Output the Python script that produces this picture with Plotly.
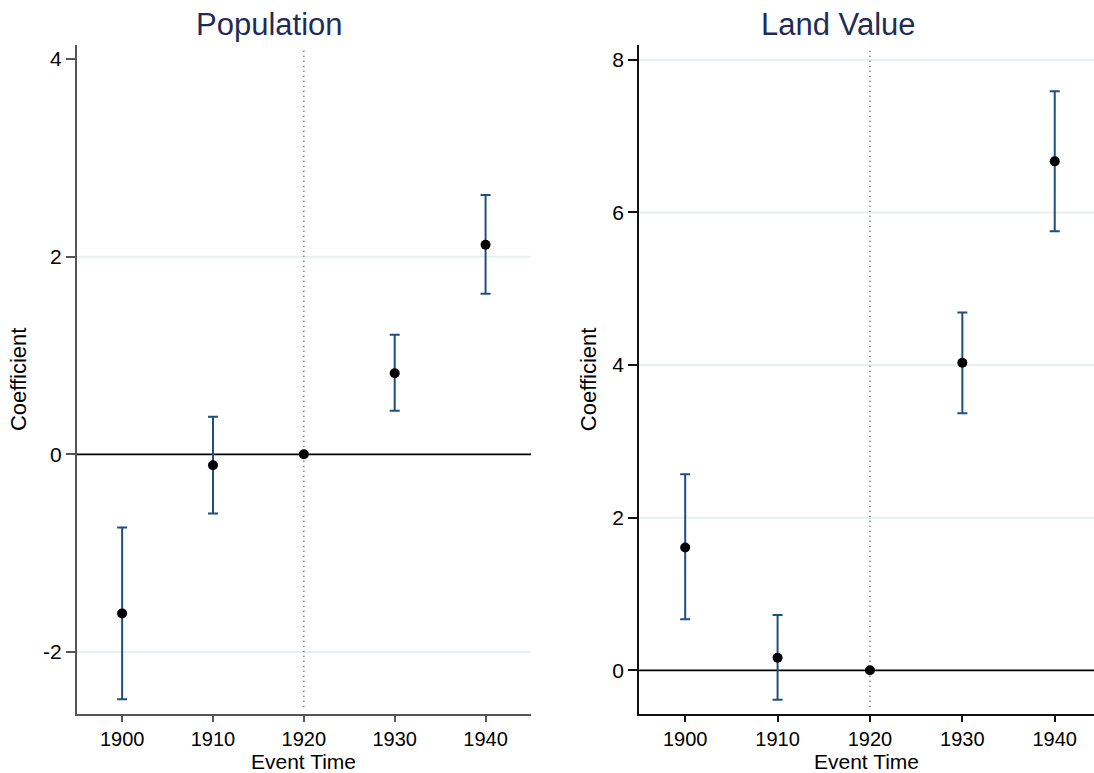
import plotly.graph_objects as go

years = [1900, 1910, 1920, 1930, 1940]

pop_coef = [-1.61, -0.11, 0.0, 0.82, 2.12]
pop_lower = [-2.48, -0.60, 0.0, 0.44, 1.625]
pop_upper = [-0.74, 0.38, 0.0, 1.21, 2.625]

land_coef = [1.61, 0.165, 0.0, 4.03, 6.67]
land_lower = [0.67, -0.385, 0.0, 3.37, 5.755]
land_upper = [2.57, 0.725, 0.0, 4.69, 7.59]

pop_ticks = [-2, 0, 2, 4]
pop_ticktext = ["-2", "0", "2", "4"]
land_ticks = [0, 2, 4, 6, 8]
land_ticktext = ["0", "2", "4", "6", "8"]
year_labels = ["1900", "1910", "1920", "1930", "1940"]
pop_grid = [-2, 2]
land_grid = [2, 4, 6, 8]

titles = ["Population", "Land Value"]
x_title = "Event Time"
y_title = "Coefficient"
event_year = 1920

FONT = "Liberation Sans, Arial, sans-serif"
CI_COLOR = "#1f4f7d"
GRID_COLOR = "#e8eff2"
TITLE_COLOR = "#1f2d55"

W, H = 1094, 773
fig = go.Figure()

panels = [
    dict(coef=pop_coef, lo=pop_lower, hi=pop_upper, ticks=pop_ticks, ticktext=pop_ticktext,
         grid=pop_grid, xa="x", ya="y", xdom=[76.7 / W, 531 / W], xr=[1895, 1945],
         yr=[-2.625, 4.142], axcol="#555555", title=titles[0], tx=269.5),
    dict(coef=land_coef, lo=land_lower, hi=land_upper, ticks=land_ticks, ticktext=land_ticktext,
         grid=land_grid, xa="x2", ya="y2", xdom=[639 / W, 1.0], xr=[1895, 1944.25],
         yr=[-0.569, 8.195], axcol="#111111", title=titles[1], tx=838),
]

ydom = [1 - 713.7 / H, 1 - 45 / H]
layout = dict(
    width=W, height=H, margin=dict(l=0, r=0, t=0, b=0),
    paper_bgcolor="white", plot_bgcolor="white", showlegend=False,
    font=dict(family=FONT, color="black", size=21),
)

shapes = []
annotations = []
for i, p in enumerate(panels):
    sfx = "" if i == 0 else "2"
    for g in p["grid"]:
        shapes.append(dict(type="line", xref=f"x{sfx} domain", yref=p["ya"], x0=0, x1=1, y0=g, y1=g,
                           line=dict(color=GRID_COLOR, width=2), layer="below"))
    shapes.append(dict(type="line", xref=f"x{sfx} domain", yref=p["ya"], x0=0, x1=1, y0=0, y1=0,
                       line=dict(color="black", width=1.8), layer="below"))
    shapes.append(dict(type="line", xref=p["xa"], yref=f"y{sfx} domain", x0=event_year, x1=event_year,
                       y0=0.0105, y1=0.9925, line=dict(color="#444444", width=1.4, dash="1px,4px"),
                       layer="below"))
    idx = [k for k in range(len(years)) if p["hi"][k] != p["lo"][k]]
    fig.add_trace(go.Scatter(
        x=[years[k] for k in idx], y=[p["coef"][k] for k in idx], xaxis=p["xa"], yaxis=p["ya"],
        mode="markers", marker=dict(size=0.1, color="rgba(0,0,0,0)"),
        error_y=dict(type="data", symmetric=False,
                     array=[p["hi"][k] - p["coef"][k] for k in idx],
                     arrayminus=[p["coef"][k] - p["lo"][k] for k in idx],
                     color=CI_COLOR, thickness=2, width=5),
        hoverinfo="skip"))
    fig.add_trace(go.Scatter(
        x=years, y=p["coef"], xaxis=p["xa"], yaxis=p["ya"], mode="markers",
        marker=dict(size=10, color="black")))
    layout[f"xaxis{sfx}"] = dict(
        domain=p["xdom"], range=p["xr"], anchor=p["ya"], tickvals=years, ticktext=year_labels,
        ticks="outside", ticklen=6, tickwidth=1.5, tickcolor=p["axcol"],
        showline=True, linecolor=p["axcol"], linewidth=1.6, showgrid=False, zeroline=False,
        tickfont=dict(size=20, family=FONT, color="black"),
    )
    layout[f"yaxis{sfx}"] = dict(
        domain=ydom, range=p["yr"], anchor=p["xa"], tickvals=p["ticks"], ticktext=p["ticktext"],
        ticks="outside", ticklen=9, tickwidth=1.5, tickcolor=p["axcol"],
        showline=True, linecolor=p["axcol"], linewidth=1.6, showgrid=False, zeroline=False,
        tickfont=dict(size=21, family=FONT, color="black"),
        title=dict(text=y_title, font=dict(size=22, family=FONT, color="black"), standoff=10),
    )
    annotations.append(dict(text=p["title"], x=p["tx"] / W, y=1 - 25 / H, xref="paper", yref="paper",
                            xanchor="center", yanchor="middle", showarrow=False,
                            font=dict(size=31, family=FONT, color=TITLE_COLOR)))
    annotations.append(dict(text=x_title, x=0.5, y=0, xref=f"x{sfx} domain", yref="paper",
                            xanchor="center", yanchor="bottom", yshift=-2, showarrow=False,
                            font=dict(size=21, family=FONT, color="black")))

layout["shapes"] = shapes
layout["annotations"] = annotations
fig.update_layout(**layout)
fig.write_html("out.html")
